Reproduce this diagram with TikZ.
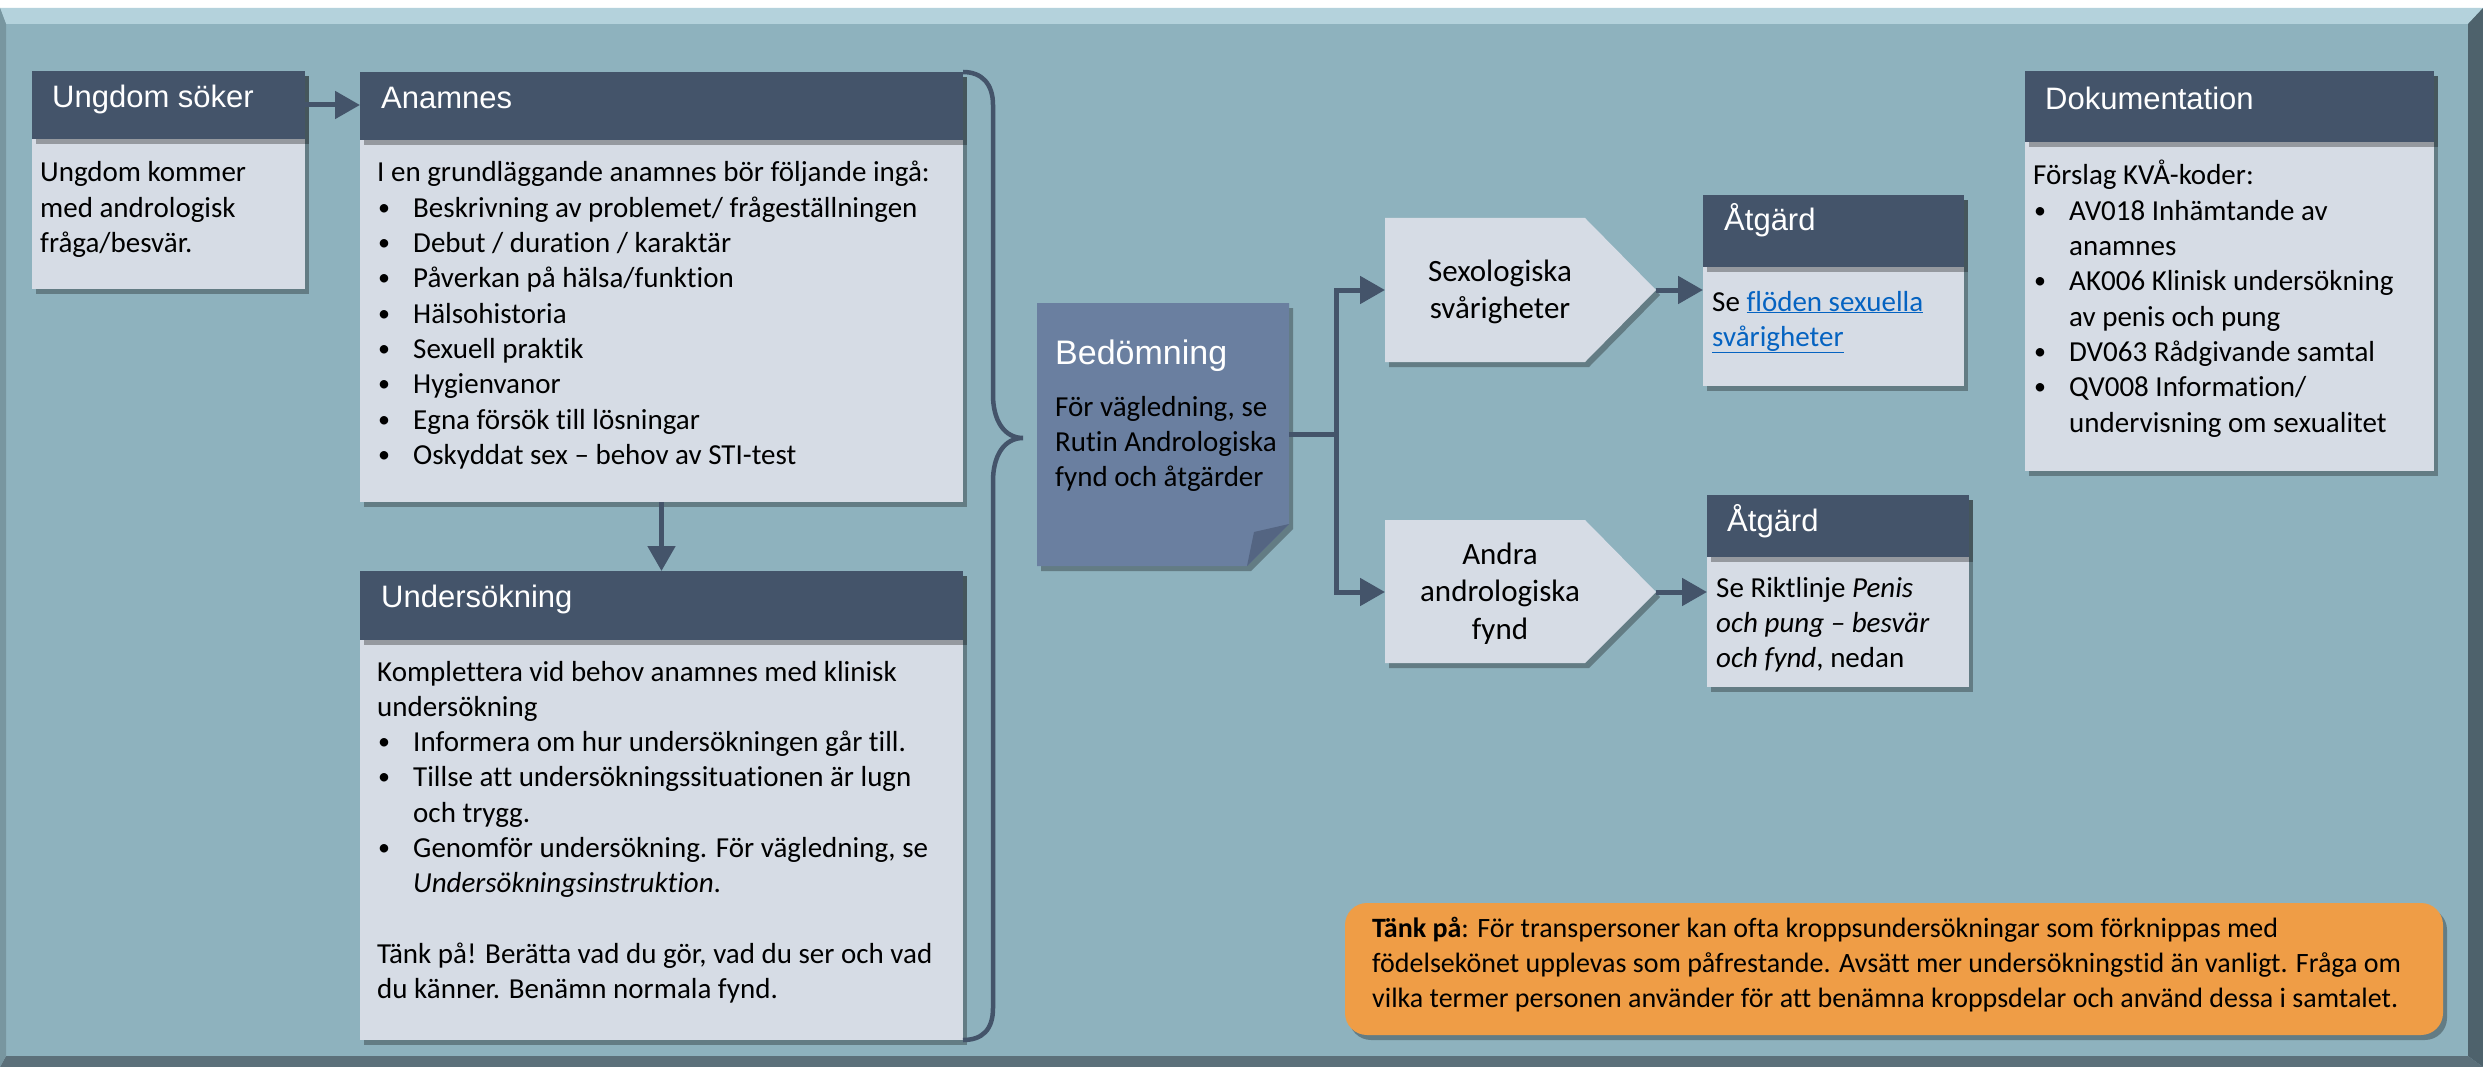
\documentclass[tikz,border=0pt]{standalone}
\usepackage{fontspec}
\setmainfont{Carlito}[Ligatures=NoCommon]
\newfontfamily\hdrfont{Liberation Sans}
\usetikzlibrary{shadows,arrows.meta}
\definecolor{panel}{RGB}{142,178,190}
\definecolor{hdrc}{RGB}{68,84,106}
\definecolor{bodyc}{RGB}{214,220,229}
\definecolor{bedc}{RGB}{106,127,160}
\definecolor{foldc}{RGB}{84,101,130}
\definecolor{orangec}{RGB}{239,157,70}
\definecolor{linkc}{RGB}{5,99,193}
\definecolor{toplight}{RGB}{180,210,220}
\definecolor{edgedark}{RGB}{78,98,108}
\definecolor{edgebot}{RGB}{92,112,122}
\definecolor{edgeleft}{RGB}{120,150,160}
\newcommand{\bl}{\makebox[36pt][l]{\hspace{1pt}\raisebox{2pt}{\fontsize{24}{24}\selectfont •}}}
\newcommand{\ind}{\hspace*{36pt}}
\begin{document}
\begin{tikzpicture}[x=1pt,y=-1pt,
  shad/.style={drop shadow={shadow xshift=4pt,shadow yshift=-5pt,opacity=0.3,fill=black}},
  card/.style={fill=bodyc,inner sep=0pt,outer sep=0pt,anchor=north west,shad},
  hdr/.style={fill=hdrc,inner sep=0pt,outer sep=0pt,anchor=north west,shad},
  htxt/.style={font=\hdrfont\fontsize{31}{36}\selectfont,text=white,anchor=base west,inner sep=0pt},
  btxt/.style={font=\fontsize{29}{35.3}\selectfont,anchor=base west,inner sep=0pt,text=black},
  ctxt/.style={font=\fontsize{31}{37.8}\selectfont,anchor=base,inner sep=0pt,text=black},
  conn/.style={draw=hdrc,line width=5pt},
  arr/.style={conn,-{Triangle[length=25pt,width=27pt]}},
]
\useasboundingbox (0,0) rectangle (2483,1067);
\fill[white] (0,0) rectangle (2483,1067);
% panel with bevel
\fill[panel] (0,8) rectangle (2483,1067);
\fill[toplight] (0,8) -- (2483,8) -- (2468,24) -- (6,24) -- cycle;
\fill[edgedark] (2483,8) -- (2483,1067) -- (2468,1056) -- (2468,24) -- cycle;
\fill[edgebot] (0,1067) -- (2483,1067) -- (2468,1056) -- (6,1056) -- cycle;
\fill[edgeleft] (0,8) -- (6,24) -- (6,1056) -- (0,1067) -- cycle;

% Ungdom söker
\node[card,minimum width=273pt,minimum height=218pt] (uc) at (32,71) {};
\node[hdr,minimum width=273pt,minimum height=68pt] (uh) at (32,71) {};
\node[htxt] (ut) at (52,108) {Ungdom söker};
\node[btxt] (ub) at (40,182) {\parbox[t]{260pt}{\raggedright Ungdom kommer\\ med andrologisk\\ fråga/besvär.}};

% Anamnes
\node[card,minimum width=603pt,minimum height=430pt] (ac) at (360,72) {};
\node[hdr,minimum width=603pt,minimum height=68pt] (ah) at (360,72) {};
\node[htxt] (at) at (381,109) {Anamnes};
\node[btxt] (ab) at (377,182) {\parbox[t]{580pt}{\raggedright I en grundläggande anamnes bör följande ingå:\\
\bl Beskrivning av problemet/ frågeställningen\\
\bl Debut / duration / karaktär\\
\bl Påverkan på hälsa/funktion\\
\bl Hälsohistoria\\
\bl Sexuell praktik\\
\bl Hygienvanor\\
\bl Egna försök till lösningar\\
\bl Oskyddat sex – behov av STI-test}};

% Undersökning
\node[card,minimum width=603pt,minimum height=469pt] (nc) at (360,571) {};
\node[hdr,minimum width=603pt,minimum height=69pt] (nh) at (360,571) {};
\node[htxt] (nt) at (381,607) {Undersökning};
\node[btxt] (nb) at (377,681) {\parbox[t]{580pt}{\raggedright Komplettera vid behov anamnes med klinisk\\
undersökning\\
\bl Informera om hur undersökningen går till.\\
\bl Tillse att undersökningssituationen är lugn\\
\ind och trygg.\\
\bl Genomför undersökning. För vägledning, se\\
\ind \textit{Undersökningsinstruktion}.\\[35.3pt]
Tänk på! Berätta vad du gör, vad du ser och vad\\
du känner. Benämn normala fynd.}};

% Brace
\draw[draw=hdrc,line width=4.5pt] (ah.north east) .. controls (982,72) and (993,84) .. (993,105) -- (993,395)
  .. controls (993,420) and (1004,438) .. (1023,438)
  .. controls (1004,438) and (993,456) .. (993,481) -- (993,1008)
  .. controls (993,1030) and (982,1040) .. (nc.south east);

% Bedömning
\node[inner sep=0pt,outer sep=0pt,minimum width=252pt,minimum height=263pt,anchor=north west] (bed) at (1037,303) {};
\fill[bedc,shad] (bed.north west) -- (bed.north east) -- (1289,524) -- (1247,566) -- (bed.south west) -- cycle;
\fill[foldc] (1247,566) -- (1254,532) -- (1289,524) -- cycle;
\node[anchor=base west,inner sep=0pt,text=white,font=\hdrfont\fontsize{34}{40}\selectfont] (bt) at (1055,364) {Bedömning};
\node[btxt] (bb) at (1055,416) {\parbox[t]{240pt}{\raggedright För vägledning, se\\ Rutin Andrologiska\\ fynd och åtgärder}};

% Chevrons
\coordinate (c1w) at (1385,290);
\coordinate (c1t) at (1656,290);
\coordinate (c2w) at (1385,592);
\coordinate (c2t) at (1656,592);
\fill[bodyc,shad] (1385,218) -- (1585,218) -- (c1t) -- (1585,362) -- (1385,362) -- cycle;
\fill[bodyc,shad] (1385,520) -- (1585,520) -- (c2t) -- (1585,663) -- (1385,663) -- cycle;
\node[ctxt] (c1x) at (1500,281) {\parbox[t]{250pt}{\centering Sexologiska\\ svårigheter}};
\node[ctxt] (c2x) at (1500,564) {\parbox[t]{250pt}{\centering Andra\\ andrologiska\\ fynd}};

% Åtgärd 1
\node[card,minimum width=261pt,minimum height=191pt] (a1c) at (1703,195) {};
\node[hdr,minimum width=261pt,minimum height=72pt] (a1h) at (1703,195) {};
\node[htxt] (a1t) at (1724,231) {Åtgärd};
\node[btxt] (a1b) at (1712,311) {\parbox[t]{250pt}{\raggedright Se \textcolor{linkc}{\underline{flöden sexuella}}\\ \textcolor{linkc}{\underline{svårigheter}}}};

% Åtgärd 2
\node[card,minimum width=262pt,minimum height=192pt] (a2c) at (1707,495) {};
\node[hdr,minimum width=262pt,minimum height=62pt] (a2h) at (1707,495) {};
\node[htxt] (a2t) at (1727,531) {Åtgärd};
\node[btxt] (a2b) at (1716,597) {\parbox[t]{250pt}{\raggedright Se Riktlinje \textit{Penis}\\ \textit{och pung – besvär}\\ \textit{och fynd}, nedan}};

% Dokumentation
\node[card,minimum width=409pt,minimum height=400pt] (dc) at (2025,71) {};
\node[hdr,minimum width=409pt,minimum height=71pt] (dh) at (2025,71) {};
\node[htxt] (dt) at (2045,110) {Dokumentation};
\node[btxt] (db) at (2033,185) {\parbox[t]{400pt}{\raggedright Förslag KVÅ-koder:\\
\bl AV018 Inhämtande av\\
\ind anamnes\\
\bl AK006 Klinisk undersökning\\
\ind av penis och pung\\
\bl DV063 Rådgivande samtal\\
\bl QV008 Information/\\
\ind undervisning om sexualitet}};

% Orange note
\node[fill=orangec,rounded corners=22pt,inner sep=0pt,outer sep=0pt,minimum width=1098pt,minimum height=132pt,anchor=north west,shad] (oc) at (1345,903) {};
\node[btxt,font=\fontsize{28}{35}\selectfont] (ob) at (1372,937) {\parbox[t]{1065pt}{\raggedright \textbf{Tänk på}: För transpersoner kan ofta kroppsundersökningar som förknippas med\\
födelsekönet upplevas som påfrestande. Avsätt mer undersökningstid än vanligt. Fråga om\\
vilka termer personen använder för att benämna kroppsdelar och använd dessa i samtalet.}};

% Connectors
\draw[arr] (uh.east) -- (uh.east -| ah.west);
\draw[arr] (ac.south) -- (nc.north);
\coordinate (j) at (1336,434.5);
\draw[conn] (bed.east) -- (j);
\draw[arr] (j) |- (c1w);
\draw[arr] (j) |- (c2w);
\draw[arr] (c1t) -- (c1t -| a1c.west);
\draw[arr] (c2t) -- (c2t -| a2c.west);
\end{tikzpicture}
\end{document}
